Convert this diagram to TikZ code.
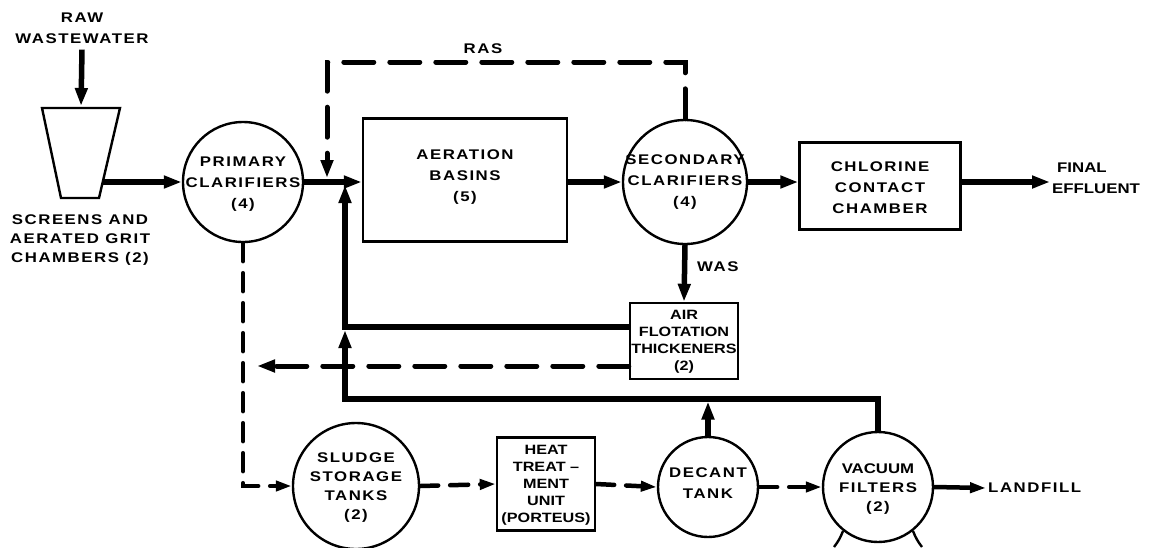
\documentclass[tikz,border=0pt]{standalone}
\usepackage{fontspec}
\setmainfont{Liberation Sans}
\newfontfamily\widef{Liberation Sans}[FakeStretch=1.2,LetterSpace=11]
\newfontfamily\narf{Liberation Sans}[FakeStretch=1.2]
\usetikzlibrary{arrows.meta}
\begin{document}
\begin{tikzpicture}[x=1pt,y=-1pt,
  tip/.style={-{Triangle[length=18pt,width=12pt]}},
  stip/.style={-{Triangle[length=16pt,width=10pt]}},
  flow/.style={line width=5.5pt,tip},
  dlong/.style={line width=5pt,line cap=round,dash pattern=on 30pt off 16pt},
  dshort/.style={line width=4.5pt,line cap=round,dash pattern=on 18pt off 12pt},
  circ/.style={draw,line width=2.4pt,circle,inner sep=0pt},
  boxn/.style={draw,line width=2.4pt,rectangle,inner sep=0pt},
  lbl/.style={align=center,inner sep=0pt,font=\widef\bfseries\fontsize{14}{21}\selectfont},
  nlbl/.style={align=center,inner sep=0pt,font=\narf\bfseries\fontsize{13.5}{17}\selectfont},
]
\fill[white] (0,0) rectangle (1151,547);
\useasboundingbox (0,0) rectangle (1151,547);

% --- nodes
\node[lbl] (raw) at (82,28) {RAW\\WASTEWATER};
\draw[line width=2.4pt] (42,108) -- (120,108) -- (99,198) -- (61,198) -- cycle;
\coordinate (sgtop) at (81,108);
\coordinate (sgout) at (102,182);
\node[lbl,font=\widef\bfseries\fontsize{14}{19}\selectfont] (sgl) at (80,240) {SCREENS AND\\AERATED GRIT\\CHAMBERS (2)};

\node[circ,minimum size=120pt] (pc) at (243,182) {};
\node[lbl] at (243,184) {PRIMARY\\CLARIFIERS\\(4)};

\node[boxn,minimum width=204pt,minimum height=123pt] (ab) at (465,180) {};
\node[lbl] at (465,177) {AERATION\\BASINS\\(5)};

\node[circ,minimum size=124pt] (sc) at (685,182) {};
\node[lbl] at (685,182) {SECONDARY\\CLARIFIERS\\(4)};

\node[boxn,minimum width=161pt,minimum height=87pt] (cc) at (880,186) {};
\node[lbl] at (880,188) {CHLORINE\\CONTACT\\CHAMBER};

\node[align=left,anchor=west,inner sep=2pt,font=\narf\bfseries\fontsize{14}{21}\selectfont] (fe) at (1050,178) {\hspace{5pt}FINAL\\EFFLUENT};

\node[lbl] (ras) at (483,49) {RAS};
\node[lbl,anchor=west] (was) at (697,267) {WAS};

\node[boxn,minimum width=108pt,minimum height=76pt] (aft) at (684,341) {};
\node[nlbl] at (684,342) {AIR\\FLOTATION\\THICKENERS\\(2)};

\node[circ,minimum size=126pt] (st) at (356,486) {};
\node[lbl,font=\widef\bfseries\fontsize{14}{19}\selectfont] at (356,488) {SLUDGE\\STORAGE\\TANKS\\(2)};

\node[boxn,minimum width=98pt,minimum height=93pt] (ht) at (546,484) {};
\node[nlbl] at (546,485) {HEAT\\TREAT \textendash\\MENT\\UNIT\\(PORTEUS)};

\node[circ,minimum size=100pt] (dt) at (708,487) {};
\node[lbl] at (708,483) {DECANT\\TANK};

\node[circ,minimum size=110pt] (vf) at (878,487) {};
\node[lbl,font=\widef\bfseries\fontsize{14}{19}\selectfont] at (878,489) {{\narf VACUUM}\\FILTERS\\(2)};

\node[lbl,anchor=west,inner sep=2pt] (lf) at (986,488) {LANDFILL};

% legs under vacuum filter
\draw[line width=2.4pt] (843,531) to[bend left=8] (834,547);
\draw[line width=2.4pt] (913,531) to[bend right=8] (922,547);

% --- coordinates
\coordinate (rasTop) at (327,62);
\coordinate (rasIn) at (327,178);
\coordinate (r1) at (345,327);
\coordinate (r1t) at (345,185);
\coordinate (r2) at (345,399);
\coordinate (r2t) at (345,330);
\coordinate (dl) at (257,366);

% --- main flow
\draw[flow,shorten >=2pt] (raw.south) ++(0,6) -- (sgtop);
\draw[flow] (sgout) -- (pc.west);
\draw[flow] (pc.east) -- (ab.west |- pc.east);
\draw[flow] (ab.east |- sc.west) -- (sc.west);
\draw[flow] (sc.east) -- (cc.west |- sc.east);
\draw[flow] (cc.east |- sc.east) -- (fe.west |- sc.east);

% RAS
\draw[dlong,tip] (sc.north) |- (rasTop) -- (rasIn);

% WAS
\draw[flow] (sc.south) -- (aft.north);

% returns
\draw[flow] (aft.west |- r1) -- (r1) -- (r1t);
\draw[flow] (vf.north) |- (r2) -- (r2t);
\draw[flow,shorten >=2.5pt] (dt.north) -- (dt.north |- r2);

% dashed return from AFT
\draw[dlong,tip] (aft.west |- dl) -- (dl);

% sludge path
\draw[dshort,stip] (pc.south) |- (st.west);
\draw[dshort,stip] (st.east) -- (ht.west);
\draw[dshort,stip] (ht.east) -- (dt.west);
\draw[dshort,stip] (dt.east) -- (vf.west);

\draw[line width=4.5pt,stip] (vf.east) -- (lf.west);
\end{tikzpicture}
\end{document}
